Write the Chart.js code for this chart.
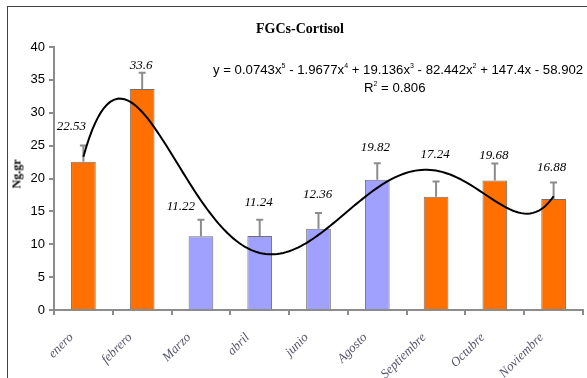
<!DOCTYPE html>
<html>
<head>
<meta charset="utf-8">
<script src="https://cdn.jsdelivr.net/npm/chart.js@4/dist/chart.umd.min.js"></script>
<style>
    html, body { margin: 0; padding: 0; background: #ffffff; }
    .wrap {
        position: relative;
        width: 587px;
        height: 378px;
        overflow: hidden;
    }
    .frame {
        position: absolute;
        left: 7px;
        top: 6px;
        width: 600px;
        height: 400px;
        border-top: 1px solid #444;
        border-left: 1px solid #444;
    }
    canvas { position: absolute; left: 0; top: 0; }
    .title {
        position: absolute;
        left: 200px; width: 200px; top: 21px;
        text-align: center;
        font: bold 14px "Liberation Serif", serif;
        color: #000;
    }
    .eq {
        position: absolute;
        left: 213px; top: 62px;
        font: 13.2px "Liberation Sans", Arial, sans-serif;
        color: #000;
        white-space: nowrap;
    }
    .r2 {
        position: absolute;
        left: 364px; top: 80px;
        font: 13.2px "Liberation Sans", Arial, sans-serif;
        color: #000;
        white-space: nowrap;
    }
    sup { font-size: 7px; vertical-align: 6px; line-height: 0; }
    .ylab {
        position: absolute;
        left: 17px; top: 174px;
        transform: translate(-50%, -50%) rotate(-90deg);
        font: bold 12px "Liberation Serif", serif;
        color: #000;
        white-space: nowrap;
    }
</style>
</head>
<body>
<div class="wrap">
    <div class="frame"></div>
    <canvas id="chart" width="587" height="378"></canvas>
    <div class="title">FGCs-Cortisol</div>
    <div class="eq">y = 0.0743x<sup>5</sup> - 1.9677x<sup>4</sup> + 19.136x<sup>3</sup> - 82.442x<sup>2</sup> + 147.4x - 58.902</div>
    <div class="r2">R<sup>2</sup> = 0.806</div>
    <div class="ylab">Ng.gr</div>
</div>
<script>
const months = ['enero', 'febrero', 'Marzo', 'abril', 'junio', 'Agosto', 'Septiembre', 'Octubre', 'Noviembre'];
const cortisol = [22.53, 33.6, 11.22, 11.24, 12.36, 19.82, 17.24, 19.68, 16.88];
const errUp = [2.5, 2.5, 2.5, 2.5, 2.4, 2.5, 2.3, 2.6, 2.5];
const blueMonths = ['Marzo', 'abril', 'junio', 'Agosto'];
// polynomial trend, highest power first
const trendCoef = [0.0743, -1.9677, 19.136, -82.442, 147.4, -58.902];
const yMin = 0, yMax = 40, yStep = 5;

// hand-placed label nudges in px [dx, lift above error cap]
const labelNudge = [[-12, 19], [-1, 7], [-20, 13], [-1, 17], [-1, 18], [-2, 16], [-1, 27], [-1, 8], [-2, 15]];

const ORANGE = '#ff7000';
const BLUE = '#a0a0ff';

function trendAt(x) {
    return trendCoef.reduce((acc, c) => acc * x + c, 0);
}

const trendPts = [];
for (let i = 0; i <= 160; i++) {
    const x = 1 + i * 0.05;
    trendPts.push({ x: x, y: trendAt(x) });
}

const errorBars = {
    id: 'errorBars',
    afterDatasetDraw(chart, args) {
        if (args.index !== 0) return;
        const ctx = chart.ctx;
        const y = chart.scales.y;
        ctx.save();
        ctx.strokeStyle = '#8c8c8c';
        ctx.lineWidth = 2;
        args.meta.data.forEach((bar, i) => {
            const top = y.getPixelForValue(cortisol[i] + errUp[i]);
            ctx.beginPath();
            ctx.moveTo(bar.x, bar.y);
            ctx.lineTo(bar.x, top);
            ctx.moveTo(bar.x - 3.5, top);
            ctx.lineTo(bar.x + 3.5, top);
            ctx.stroke();
        });
        ctx.restore();
    }
};

const valueLabels = {
    id: 'valueLabels',
    afterDatasetsDraw(chart) {
        const ctx = chart.ctx;
        const y = chart.scales.y;
        const meta = chart.getDatasetMeta(0);
        ctx.save();
        ctx.font = 'italic 13px "Liberation Serif", serif';
        ctx.fillStyle = '#000';
        ctx.textAlign = 'center';
        ctx.textBaseline = 'middle';
        meta.data.forEach((bar, i) => {
            const top = y.getPixelForValue(cortisol[i] + errUp[i]);
            ctx.fillText(String(cortisol[i]), bar.x + labelNudge[i][0], top - labelNudge[i][1]);
        });
        ctx.restore();
    }
};

new Chart(document.getElementById('chart').getContext('2d'), {
    type: 'bar',
    data: {
        labels: months,
        datasets: [{
            data: cortisol,
            backgroundColor: months.map(m => blueMonths.includes(m) ? BLUE : ORANGE),
            borderColor: '#707070',
            borderWidth: 1,
            grouped: false,
            categoryPercentage: 1,
            barPercentage: 0.42,
            order: 2
        }, {
            type: 'line',
            data: trendPts,
            xAxisID: 'xt',
            borderColor: '#000',
            borderWidth: 2,
            pointRadius: 0,
            tension: 0,
            fill: false,
            order: 1
        }]
    },
    options: {
        responsive: false,
        animation: false,
        layout: { padding: { top: 47, right: 4, left: 0, bottom: 0 } },
        plugins: {
            legend: { display: false },
            tooltip: { enabled: false }
        },
        scales: {
            x: {
                offset: true,
                afterFit: s => { s.height = 68; },
                border: { color: '#8c8c8c', width: 2 },
                grid: { display: true, drawOnChartArea: false, offset: true, color: '#8c8c8c', tickLength: 5, lineWidth: 2 },
                ticks: {
                    autoSkip: false,
                    minRotation: 45,
                    maxRotation: 45,
                    padding: 15,
                    labelOffset: -12,
                    color: '#55556a',
                    font: { family: '"Liberation Serif", serif', style: 'italic', size: 13 }
                }
            },
            xt: {
                type: 'linear',
                display: false,
                offset: false,
                grid: { offset: false },
                min: 0.5,
                max: 9.5
            },
            y: {
                min: yMin,
                max: yMax,
                afterFit: s => { s.width = 54; },
                border: { color: '#8c8c8c', width: 2 },
                grid: { display: true, drawOnChartArea: false, color: '#8c8c8c', tickLength: 5, lineWidth: 2 },
                ticks: {
                    stepSize: yStep,
                    padding: 4,
                    color: '#000',
                    font: { family: '"Liberation Sans", Arial, sans-serif', size: 13 }
                }
            }
        }
    },
    plugins: [errorBars, valueLabels]
});
</script>
</body>
</html>
